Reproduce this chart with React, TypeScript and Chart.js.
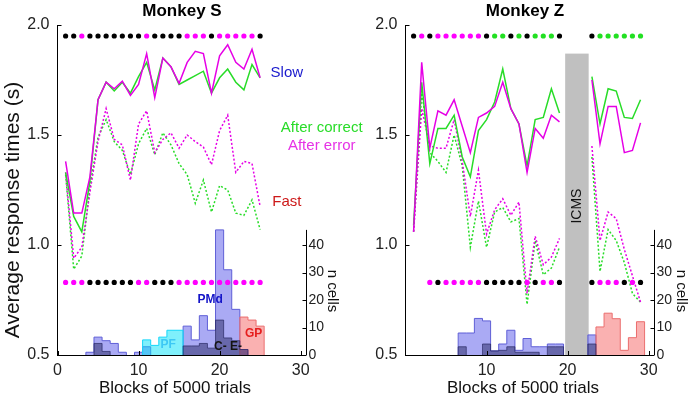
import { useEffect, useRef } from 'react';
import { Chart, registerables } from 'chart.js';

Chart.register(...registerables);

const FONT = '"Liberation Sans", Arial, Helvetica, sans-serif';
const MAGENTA = 'rgb(230,0,230)';
const GREEN = 'rgb(40,220,40)';
const DOT_COLORS: Record<string, string> = { k: '#000000', m: '#ff00ff', g: '#22e022' };

const Y_TICKS = [0.5, 1.0, 1.5, 2.0];
const N_TICKS = [0, 10, 20, 30, 40];
const TOP_DOT_LEVEL = 1.95;
const BOTTOM_DOT_LEVEL = 0.83;

// ---------------- Monkey S ----------------
const S_X_TICKS = [0, 10, 20, 30];
const S_BLOCKS = [1, 2, 3, 4, 5, 6, 7, 8, 9, 10, 11, 12, 13, 14, 15, 16, 17, 18, 19, 20, 21, 22, 23, 24, 25];
const S_SLOW_CORRECT = [1.33, 1.13, 1.06, 1.29, 1.66, 1.74, 1.70, 1.74, 1.69, 1.765, 1.83, 1.705, 1.85, 1.81, 1.73, 1.75, 1.77, 1.79, 1.69, 1.76, 1.80, 1.74, 1.705, 1.82, 1.76];
const S_SLOW_ERROR = [1.38, 1.145, 1.145, 1.31, 1.66, 1.74, 1.71, 1.745, 1.68, 1.73, 1.87, 1.67, 1.85, 1.81, 1.735, 1.83, 1.88, 1.87, 1.69, 1.86, 1.91, 1.83, 1.80, 1.89, 1.76];
const S_FAST_CORRECT = [1.32, 0.89, 0.95, 1.26, 1.49, 1.57, 1.47, 1.43, 1.32, 1.46, 1.53, 1.41, 1.51, 1.455, 1.37, 1.32, 1.19, 1.295, 1.15, 1.27, 1.25, 1.145, 1.135, 1.205, 1.07];
const S_FAST_ERROR = [1.33, 0.94, 0.99, 1.24, 1.47, 1.62, 1.48, 1.455, 1.295, 1.55, 1.61, 1.42, 1.48, 1.51, 1.44, 1.50, 1.47, 1.445, 1.365, 1.52, 1.59, 1.33, 1.38, 1.37, 1.175];
const S_TOP_DOTS = ['k', 'k', 'm', 'k', 'k', 'k', 'k', 'k', 'k', 'k', 'm', 'k', 'k', 'k', 'k', 'm', 'm', 'm', 'k', 'm', 'm', 'm', 'm', 'm', 'k'];
const S_BOTTOM_DOTS = ['m', 'm', 'm', 'k', 'k', 'k', 'k', 'k', 'k', 'm', 'm', 'k', 'k', 'k', 'm', 'm', 'm', 'm', 'm', 'm', 'm', 'm', 'm', 'm', 'm'];
const S_PMD_BINS = [4, 5, 6, 7, 8, 10, 11, 16, 17, 18, 19, 20, 21, 22, 23];
const S_PMD_COUNTS = [1, 6.5, 5.2, 4.2, 1, 1, 3, 10.5, 5.5, 14.3, 9, 45.5, 31, 16.6, 2];
const S_PF_BINS = [11, 12, 13, 14, 15];
const S_PF_COUNTS = [5.5, 3.5, 6.5, 9, 9];
const S_GP_BINS = [23, 24, 25];
const S_GP_COUNTS = [13.8, 12.7, 10.5];
const S_CE_BINS = [5, 6, 16, 17, 18, 19, 20, 21, 22, 23];
const S_CE_COUNTS = [4.2, 1.3, 3.3, 3.3, 4.2, 2.5, 12.7, 6.2, 5.2, 2];

// ---------------- Monkey Z ----------------
const Z_X_TICKS = [10, 20, 30];
const Z_BLOCKS = [1, 2, 3, 4, 5, 6, 7, 8, 9, 10, 11, 12, 13, 14, 15, 16, 17, 18, 19, 20, 21, 22, 23, 24, 25, 26, 27, 28, 29];
const Z_SLOW_CORRECT = [1.09, 1.74, 1.37, 1.53, 1.53, 1.59, 1.40, 1.31, 1.52, 1.57, 1.65, 1.80, 1.62, 1.55, 1.36, 1.57, 1.58, 1.71, 1.60, null, null, null, 1.765, 1.55, 1.71, 1.70, 1.58, 1.575, 1.66];
const Z_SLOW_ERROR = [1.06, 1.83, 1.44, 1.61, 1.59, 1.66, 1.54, 1.42, 1.58, 1.60, 1.63, 1.74, 1.62, 1.55, 1.33, 1.53, 1.485, 1.59, 1.56, null, null, null, 1.75, 1.46, 1.63, 1.63, 1.42, 1.43, 1.555];
const Z_FAST_CORRECT = [1.06, 1.70, 1.42, 1.38, 1.33, 1.50, 1.36, 0.99, 1.20, 0.99, 1.15, 1.17, 1.105, 1.12, 0.73, 1.02, 0.865, 0.895, 0.99, null, null, null, 1.40, 0.88, 1.07, 1.02, 0.92, 0.78, 0.74];
const Z_FAST_ERROR = [1.06, 1.62, 1.45, 1.44, 1.44, 1.57, 1.38, 1.13, 1.34, 1.05, 1.16, 1.21, 1.135, 1.195, 0.78, 1.04, 0.91, 0.945, 1.03, null, null, null, 1.45, 1.02, 1.15, 1.12, 0.98, 0.86, 0.74];
const Z_TOP_BLOCKS = [1, 2, 3, 4, 5, 6, 7, 8, 9, 10, 11, 12, 13, 14, 15, 16, 17, 18, 19, 23, 24, 25, 26, 27, 28, 29];
const Z_TOP_DOTS = ['k', 'm', 'k', 'm', 'm', 'm', 'm', 'm', 'm', 'k', 'g', 'g', 'k', 'g', 'k', 'g', 'g', 'g', 'k', 'k', 'g', 'g', 'g', 'g', 'g', 'g'];
const Z_BOTTOM_BLOCKS = [3, 4, 5, 6, 7, 8, 9, 10, 11, 12, 13, 14, 15, 16, 17, 18, 19, 23, 24, 25, 26, 27, 28, 29];
const Z_BOTTOM_DOTS = ['m', 'k', 'm', 'm', 'm', 'm', 'm', 'k', 'k', 'k', 'k', 'k', 'm', 'k', 'm', 'm', 'k', 'k', 'm', 'm', 'm', 'k', 'm', 'k'];
const Z_PMD_BINS = [7, 8, 9, 10, 11, 12, 13, 14, 15, 16, 17, 18, 19, 23];
const Z_PMD_COUNTS = [8, 8, 13.3, 12.4, 1.5, 4, 9, 1.7, 6, 3, 3, 4, 4, 7.3];
const Z_GP_BINS = [24, 25, 26, 27, 28, 29];
const Z_GP_COUNTS = [10.2, 15.2, 13.2, 1.7, 6.3, 12.1];
const Z_CE_BINS = [7, 10, 11, 12, 13, 14, 15, 16, 18, 19, 23];
const Z_CE_COUNTS = [3, 4, 1.5, 1.7, 3, 1, 1, 1, 3, 3, 4];
const Z_ICMS = { start: 19.7, end: 22.6, top: 1.87 };

type Note = {
  text: string; x: number; y: number; px?: boolean; axis?: 'y' | 'y2';
  color: string; size: number; bold?: boolean; rot?: number;
};
type Hist = { bins: number[]; counts: number[]; fill: string; border: string; order: number };
type Spec = {
  yWidth: number; y2Width: number; xTicks: number[];
  blocks: number[];
  slowCorrect: (number | null)[]; slowError: (number | null)[];
  fastCorrect: (number | null)[]; fastError: (number | null)[];
  topBlocks: number[]; topDots: string[]; botBlocks: number[]; botDots: string[];
  hists: Hist[]; notes: Note[];
  icms?: { start: number; end: number; top: number };
};

const PMD_FILL = 'rgba(100,100,235,0.55)';
const PMD_BORDER = 'rgba(95,95,215,1)';
const PF_FILL = 'rgba(0,225,250,0.5)';
const PF_BORDER = 'rgba(20,215,250,1)';
const GP_FILL = 'rgba(245,100,100,0.5)';
const GP_BORDER = 'rgba(235,110,110,1)';
const CE_FILL = 'rgba(40,40,100,0.5)';
const CE_BORDER = 'rgba(40,40,100,0.7)';

const S_SPEC: Spec = {
  yWidth: 57.5, y2Width: 94.5, xTicks: S_X_TICKS,
  blocks: S_BLOCKS,
  slowCorrect: S_SLOW_CORRECT, slowError: S_SLOW_ERROR,
  fastCorrect: S_FAST_CORRECT, fastError: S_FAST_ERROR,
  topBlocks: S_BLOCKS, topDots: S_TOP_DOTS, botBlocks: S_BLOCKS, botDots: S_BOTTOM_DOTS,
  hists: [
    { bins: S_PMD_BINS, counts: S_PMD_COUNTS, fill: PMD_FILL, border: PMD_BORDER, order: 9 },
    { bins: S_PF_BINS, counts: S_PF_COUNTS, fill: PF_FILL, border: PF_BORDER, order: 8 },
    { bins: S_GP_BINS, counts: S_GP_COUNTS, fill: GP_FILL, border: GP_BORDER, order: 7 },
    { bins: S_CE_BINS, counts: S_CE_COUNTS, fill: CE_FILL, border: CE_BORDER, order: 6 },
  ],
  notes: [
    { text: 'Monkey S', x: 182, y: 11, px: true, color: '#000', size: 17, bold: true },
    { text: 'Average response times (s)', x: 13, y: 210, px: true, color: '#111', size: 21, rot: -Math.PI / 2 },
    { text: 'Blocks of 5000 trials', x: 175, y: 388, px: true, color: '#111', size: 17 },
    { text: 'n cells', x: 332, y: 291, px: true, color: '#111', size: 15, rot: Math.PI / 2 },
    { text: 'Slow', x: 28.3, y: 1.782, color: 'rgb(25,25,205)', size: 15 },
    { text: 'After correct', x: 32.6, y: 1.532, color: 'rgb(40,220,40)', size: 15 },
    { text: 'After error', x: 32.6, y: 1.45, color: 'rgb(230,50,230)', size: 15 },
    { text: 'Fast', x: 28.3, y: 1.195, color: 'rgb(205,25,25)', size: 15 },
    { text: 'PMd', x: 18.83, y: 20, axis: 'y2', color: 'rgb(20,20,200)', size: 12, bold: true },
    { text: 'PF', x: 13.65, y: 3.6, axis: 'y2', color: 'rgb(60,200,245)', size: 12, bold: true },
    { text: 'GP', x: 24.2, y: 7.9, axis: 'y2', color: 'rgb(230,30,30)', size: 12, bold: true },
    { text: 'C- E-', x: 21.05, y: 3, axis: 'y2', color: 'rgb(20,20,20)', size: 12, bold: true },
  ],
};

const Z_SPEC: Spec = {
  yWidth: 60.5, y2Width: 37.5, xTicks: Z_X_TICKS,
  blocks: Z_BLOCKS,
  slowCorrect: Z_SLOW_CORRECT, slowError: Z_SLOW_ERROR,
  fastCorrect: Z_FAST_CORRECT, fastError: Z_FAST_ERROR,
  topBlocks: Z_TOP_BLOCKS, topDots: Z_TOP_DOTS, botBlocks: Z_BOTTOM_BLOCKS, botDots: Z_BOTTOM_DOTS,
  hists: [
    { bins: Z_PMD_BINS, counts: Z_PMD_COUNTS, fill: PMD_FILL, border: PMD_BORDER, order: 9 },
    { bins: Z_GP_BINS, counts: Z_GP_COUNTS, fill: GP_FILL, border: GP_BORDER, order: 7 },
    { bins: Z_CE_BINS, counts: Z_CE_COUNTS, fill: CE_FILL, border: CE_BORDER, order: 6 },
  ],
  notes: [
    { text: 'Monkey Z', x: 180, y: 11, px: true, color: '#000', size: 17, bold: true },
    { text: 'Blocks of 5000 trials', x: 178, y: 388, px: true, color: '#111', size: 17 },
    { text: 'n cells', x: 336.5, y: 291, px: true, color: '#111', size: 15, rot: Math.PI / 2 },
    { text: 'ICMS', x: 21.2, y: 1.177, color: '#111', size: 14, rot: -Math.PI / 2 },
  ],
  icms: Z_ICMS,
};

function histPts(bins: number[], counts: number[]) {
  const pts: { x: number; y: number | null }[] = [];
  for (let i = 0; i < bins.length; i++) {
    const l = bins[i] - 0.5;
    if (i === 0 || bins[i] !== bins[i - 1] + 1) {
      if (i > 0) {
        pts.push({ x: bins[i - 1] + 0.5, y: 0 });
        pts.push({ x: (bins[i - 1] + 0.5 + l) / 2, y: null });
      }
      pts.push({ x: l, y: 0 });
    }
    pts.push({ x: l, y: counts[i] });
  }
  pts.push({ x: bins[bins.length - 1] + 0.5, y: 0 });
  return pts;
}

function drawText(ctx: CanvasRenderingContext2D, n: Note, x: number, y: number) {
  ctx.save();
  ctx.translate(x, y);
  if (n.rot) ctx.rotate(n.rot);
  ctx.font = `${n.bold ? 'bold ' : ''}${n.size}px ${FONT}`;
  ctx.fillStyle = n.color;
  ctx.textAlign = 'center';
  ctx.textBaseline = 'middle';
  ctx.fillText(n.text, 0, 0);
  ctx.restore();
}

function makeConfig(p: Spec) {
  const datasets: any[] = [];
  const dotSet = (blocks: number[], codes: string[], level: number) => ({
    type: 'line', data: blocks.map((b) => ({ x: b, y: level })), showLine: false,
    pointRadius: 2.6, pointHoverRadius: 2.6, pointBorderWidth: 0,
    pointBackgroundColor: codes.map((c) => DOT_COLORS[c]), pointBorderColor: 'rgba(0,0,0,0)',
    yAxisID: 'y', order: 0,
  });
  datasets.push(dotSet(p.topBlocks, p.topDots, TOP_DOT_LEVEL));
  datasets.push(dotSet(p.botBlocks, p.botDots, BOTTOM_DOT_LEVEL));
  const lineSet = (vals: (number | null)[], color: string, dashed: boolean, order: number) => ({
    type: 'line', data: p.blocks.map((b, i) => ({ x: b, y: vals[i] })),
    borderColor: color, borderWidth: 1.5, borderDash: dashed ? [2, 2] : [],
    pointRadius: 0, fill: false, spanGaps: false, tension: 0, yAxisID: 'y', order,
  });
  datasets.push(lineSet(p.slowError, MAGENTA, false, 1));
  datasets.push(lineSet(p.slowCorrect, GREEN, false, 1));
  datasets.push(lineSet(p.fastError, MAGENTA, true, 2));
  datasets.push(lineSet(p.fastCorrect, GREEN, true, 2));
  p.hists.forEach((h) =>
    datasets.push({
      type: 'line', data: histPts(h.bins, h.counts), borderColor: h.border, backgroundColor: h.fill,
      borderWidth: 1, fill: 'origin', stepped: 'before', pointRadius: 0, spanGaps: false,
      yAxisID: 'y2', order: h.order,
    })
  );

  const decor = {
    id: 'decor',
    beforeDatasetsDraw(chart: any) {
      if (!p.icms) return;
      const ctx = chart.ctx as CanvasRenderingContext2D;
      const xs = chart.scales.x, ys = chart.scales.y;
      const x1 = xs.getPixelForValue(p.icms.start), x2 = xs.getPixelForValue(p.icms.end);
      const y1 = ys.getPixelForValue(p.icms.top), y0 = ys.getPixelForValue(0.5);
      ctx.save();
      ctx.fillStyle = '#c0c0c0';
      ctx.fillRect(x1, y1, x2 - x1, y0 - y1);
      ctx.restore();
    },
    afterDraw(chart: any) {
      const ctx = chart.ctx as CanvasRenderingContext2D;
      const xs = chart.scales.x, ys = chart.scales.y, y2 = chart.scales.y2;
      const area = chart.chartArea;
      ctx.save();
      ctx.strokeStyle = '#000';
      ctx.lineWidth = 1;
      ctx.beginPath();
      xs.ticks.forEach((t: any) => {
        const px = Math.round(xs.getPixelForValue(t.value)) + 0.5;
        ctx.moveTo(px, area.bottom); ctx.lineTo(px, area.bottom - 4);
      });
      ys.ticks.forEach((t: any) => {
        const py = Math.round(ys.getPixelForValue(t.value)) + 0.5;
        ctx.moveTo(area.left, py); ctx.lineTo(area.left + 4, py);
      });
      const rx = Math.round(area.right) + 0.5;
      y2.ticks.forEach((t: any) => {
        const py = Math.round(y2.getPixelForValue(t.value)) + 0.5;
        ctx.moveTo(rx - 4, py); ctx.lineTo(rx, py);
      });
      ctx.moveTo(rx, y2.getPixelForValue(0));
      ctx.lineTo(rx, y2.getPixelForValue(45.5));
      ctx.stroke();
      ctx.restore();
      p.notes.forEach((n) => {
        if (n.px) drawText(ctx, n, n.x, n.y);
        else {
          const sc = n.axis === 'y2' ? y2 : ys;
          drawText(ctx, n, xs.getPixelForValue(n.x), sc.getPixelForValue(n.y));
        }
      });
    },
  };

  const tickFont = { family: FONT, size: 16 };
  return {
    type: 'line',
    data: { datasets },
    options: {
      animation: false,
      responsive: false,
      devicePixelRatio: 1,
      events: [],
      layout: { padding: { top: 25, left: 0, right: 0, bottom: 0 }, autoPadding: false },
      plugins: { legend: { display: false }, tooltip: { enabled: false }, title: { display: false } },
      scales: {
        x: {
          type: 'linear', min: 0, max: 30.6, bounds: 'data',
          afterFit: (s: any) => { s.height = 45; },
          afterBuildTicks: (s: any) => { s.ticks = p.xTicks.map((v) => ({ value: v })); },
          grid: { display: false, drawTicks: false },
          border: { display: true, color: '#000', width: 1 },
          ticks: { padding: 6, font: tickFont, color: '#222', maxRotation: 0, autoSkip: false },
        },
        y: {
          type: 'linear', position: 'left', min: 0.5, max: 2.0, bounds: 'data',
          afterFit: (s: any) => { s.width = p.yWidth; },
          afterBuildTicks: (s: any) => { s.ticks = Y_TICKS.map((v) => ({ value: v })); },
          grid: { display: false, drawTicks: false },
          border: { display: true, color: '#000', width: 1 },
          ticks: { padding: 8, font: tickFont, color: '#222', callback: (v: any) => Number(v).toFixed(1) },
        },
        y2: {
          type: 'linear', position: 'right', min: 0, max: 120, bounds: 'data',
          afterFit: (s: any) => { s.width = p.y2Width; },
          afterBuildTicks: (s: any) => { s.ticks = N_TICKS.map((v) => ({ value: v })); },
          grid: { display: false, drawTicks: false },
          border: { display: false },
          ticks: { padding: 3, font: { family: FONT, size: 14 }, color: '#222' },
        },
      },
    },
    plugins: [decor],
  };
}

function Panel({ spec, left, width }: { spec: Spec; left: number; width: number }) {
  const ref = useRef<HTMLCanvasElement>(null);
  useEffect(() => {
    const canvas = ref.current;
    if (!canvas) return;
    const chart = new Chart(canvas, makeConfig(spec) as any);
    return () => chart.destroy();
  }, [spec]);
  return (
    <canvas
      ref={ref}
      width={width}
      height={400}
      style={{ position: 'absolute', left, top: 0, width, height: 400 }}
    />
  );
}

export default function App() {
  return (
    <div style={{ position: 'absolute', left: 0, top: 0, width: 691, height: 400, background: '#fff', overflow: 'hidden' }}>
      <Panel spec={S_SPEC} left={0} width={400} />
      <Panel spec={Z_SPEC} left={345} width={346} />
    </div>
  );
}
